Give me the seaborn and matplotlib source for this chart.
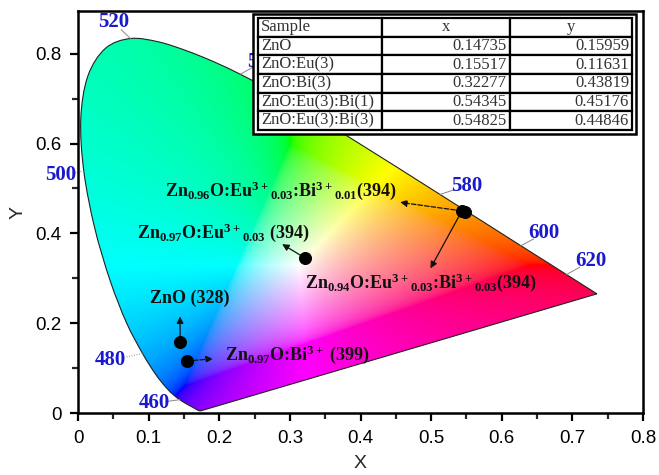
import numpy as np
import pandas as pd
import matplotlib
matplotlib.use("Agg")
import matplotlib.pyplot as plt
import seaborn as sns
from matplotlib.path import Path
from matplotlib.patches import PathPatch, Rectangle

# ---------------- data ----------------
# CIE 1931 spectral locus (wavelength nm, x, y)
wl = [380, 390, 400, 410, 420, 425, 430, 435, 440, 445, 450, 455, 460, 465, 470, 475,
      480, 485, 490, 495, 500, 505, 510, 515, 520, 525, 530, 535, 540, 545, 550, 555,
      560, 565, 570, 575, 580, 585, 590, 595, 600, 605, 610, 615, 620, 625, 630, 635,
      640, 645, 650, 655, 660, 670, 680, 700]
loc_x = [0.1741, 0.1738, 0.1733, 0.1726, 0.1714, 0.1703, 0.1689, 0.1669, 0.1644, 0.1611,
         0.1566, 0.1510, 0.1440, 0.1355, 0.1241, 0.1096, 0.0913, 0.0687, 0.0454, 0.0235,
         0.0082, 0.0039, 0.0139, 0.0389, 0.0743, 0.1142, 0.1547, 0.1929, 0.2296, 0.2658,
         0.3016, 0.3373, 0.3731, 0.4087, 0.4441, 0.4788, 0.5125, 0.5448, 0.5752, 0.6029,
         0.6270, 0.6482, 0.6658, 0.6801, 0.6915, 0.7006, 0.7079, 0.7140, 0.7190, 0.7230,
         0.7260, 0.7283, 0.7300, 0.7320, 0.7334, 0.7347]
loc_y = [0.0050, 0.0049, 0.0048, 0.0048, 0.0051, 0.0058, 0.0069, 0.0086, 0.0109, 0.0138,
         0.0177, 0.0227, 0.0297, 0.0399, 0.0578, 0.0868, 0.1327, 0.2007, 0.2950, 0.4127,
         0.5384, 0.6548, 0.7502, 0.8120, 0.8338, 0.8262, 0.8059, 0.7816, 0.7543, 0.7243,
         0.6923, 0.6589, 0.6245, 0.5896, 0.5547, 0.5202, 0.4866, 0.4544, 0.4242, 0.3965,
         0.3725, 0.3514, 0.3340, 0.3197, 0.3083, 0.2993, 0.2920, 0.2859, 0.2809, 0.2770,
         0.2740, 0.2717, 0.2700, 0.2680, 0.2666, 0.2653]

# wavelength labels: text, locus x, locus y, label x, label y
wl_labels = ["460", "480", "500", "520", "540", "580", "600", "620"]
wl_loc_x = [0.1440, 0.0913, 0.0082, 0.0743, 0.2296, 0.5125, 0.6270, 0.6915]
wl_loc_y = [0.0297, 0.1327, 0.5384, 0.8338, 0.7543, 0.4866, 0.3725, 0.3083]
wl_lab_x = [0.108, 0.046, -0.024, 0.050, 0.262, 0.550, 0.660, 0.726]
wl_lab_y = [0.022, 0.117, 0.530, 0.870, 0.782, 0.506, 0.400, 0.338]

# sample points as drawn
pt_x = [0.1445, 0.1540, 0.3215, 0.5435, 0.5480]
pt_y = [0.1580, 0.1155, 0.3450, 0.4500, 0.4470]

# table
tab_cols = ["Sample", "x", "y"]
tab_sample = ["ZnO", "ZnO:Eu(3)", "ZnO:Bi(3)", "ZnO:Eu(3):Bi(1)", "ZnO:Eu(3):Bi(3)"]
tab_x = ["0.14735", "0.15517", "0.32277", "0.54345", "0.54825"]
tab_y = ["0.15959", "0.11631", "0.43819", "0.45176", "0.44846"]

# annotations: text, x, y
ann_text = [r"Zn$_{0.96}$O:Eu$^{3+}{}_{0.03}$:Bi$^{3+}{}_{0.01}$(394)",
            r"Zn$_{0.97}$O:Eu$^{3+}{}_{0.03}$ (394)",
            r"Zn$_{0.94}$O:Eu$^{3+}{}_{0.03}$:Bi$^{3+}{}_{0.03}$(394)",
            "ZnO (328)",
            r"Zn$_{0.97}$O:Bi$^{3+}$ (399)"]
ann_x = [0.123, 0.084, 0.321, 0.102, 0.208]
ann_y = [0.495, 0.402, 0.289, 0.256, 0.129]

# arrows: start x, start y, end x, end y, style
arr_x0 = [0.5435, 0.5435, 0.3215, 0.1445, 0.1540]
arr_y0 = [0.4500, 0.4500, 0.3450, 0.1580, 0.1155]
arr_x1 = [0.456, 0.499, 0.289, 0.1445, 0.191]
arr_y1 = [0.469, 0.322, 0.376, 0.215, 0.121]
arr_ls = ["--", "-", "-", "-", "--"]

# ---------------- style ----------------
sns.set_theme(style="ticks")
plt.rcParams["font.family"] = ["Liberation Sans", "DejaVu Sans"]
plt.rcParams["mathtext.fontset"] = "custom"
plt.rcParams["mathtext.rm"] = "Liberation Serif:bold"
plt.rcParams["mathtext.it"] = "Liberation Serif:bold"
plt.rcParams["mathtext.bf"] = "Liberation Serif:bold"
plt.rcParams["mathtext.default"] = "rm"

fig = plt.figure(figsize=(6.59, 4.75), dpi=100)
ax = fig.add_axes([0.1184, 0.1305, 0.8574, 0.8463])
ax.set_xlim(0, 0.8)
ax.set_ylim(0, 0.895)

# colour fill (out-of-gamut colours desaturated by adding white)
gx = np.linspace(0, 0.8, 700)
gy = np.linspace(0.0005, 0.895, 700)
GX, GY = np.meshgrid(gx, gy)
X = GX / GY
Y = np.ones_like(GX)
Z = (1 - GX - GY) / GY
R = 3.2406 * X - 1.5372 * Y - 0.4986 * Z
G = -0.9689 * X + 1.8758 * Y + 0.0415 * Z
B = 0.0557 * X - 0.2040 * Y + 1.0570 * Z
rgb = np.stack([R, G, B], axis=-1)
mn = np.min(rgb, axis=-1, keepdims=True)
rgb = rgb - np.minimum(mn, 0)
rgb = rgb / np.max(rgb, axis=-1, keepdims=True).clip(1e-9)
rgb = np.where(rgb <= 0.0031308, 12.92 * rgb, 1.055 * np.clip(rgb, 0, None) ** (1 / 2.4) - 0.055)
rgb = np.clip(rgb, 0, 1)

# smooth boundary path through locus points (Catmull-Rom as cubic Bezier)
P = np.column_stack([loc_x, loc_y])
n = len(P)
verts = [tuple(P[0])]
codes = [Path.MOVETO]
for i in range(n - 1):
    p0 = P[max(i - 1, 0)]
    p1 = P[i]
    p2 = P[i + 1]
    p3 = P[min(i + 2, n - 1)]
    c1 = p1 + (p2 - p0) / 6.0
    c2 = p2 - (p3 - p1) / 6.0
    verts += [tuple(c1), tuple(c2), tuple(p2)]
    codes += [Path.CURVE4] * 3
verts += [tuple(P[0]), tuple(P[0])]
codes += [Path.LINETO, Path.CLOSEPOLY]
poly = PathPatch(Path(verts, codes), facecolor="none", edgecolor="#222222", lw=0.8, zorder=2)
ax.add_patch(poly)
im = ax.imshow(rgb, extent=[0, 0.8, 0.0005, 0.895], origin="lower", aspect="auto",
               interpolation="bilinear", zorder=1)
im.set_clip_path(poly)

# wavelength labels
for t, lx, ly, tx, ty in zip(wl_labels, wl_loc_x, wl_loc_y, wl_lab_x, wl_lab_y):
    ax.plot([lx, lx + (tx - lx) * 0.55], [ly, ly + (ty - ly) * 0.55], color="#888888",
            lw=0.7, ls=":" if t in ("480", "500") else "-", zorder=2, clip_on=False)
    ax.text(tx, ty, t, color="#1a1acc", fontsize=15, fontweight="bold",
            family="Liberation Serif", ha="center", va="center", zorder=3, clip_on=False)

# arrows
for x0, y0, x1, y1, ls in zip(arr_x0, arr_y0, arr_x1, arr_y1, arr_ls):
    ax.annotate("", xy=(x1, y1), xytext=(x0, y0),
                arrowprops=dict(arrowstyle="-|>", color="#111111", lw=0.9, ls=ls,
                                mutation_scale=10, shrinkA=0, shrinkB=0), zorder=4)

# points
pts = pd.DataFrame({"x": pt_x, "y": pt_y})
sns.scatterplot(data=pts, x="x", y="y", ax=ax, color="black", s=75, edgecolor="black",
                zorder=5, legend=False)

# annotation text
for t, x, y in zip(ann_text, ann_x, ann_y):
    ax.text(x, y, t, fontsize=13, fontweight="bold", family="Liberation Serif",
            color="#111111", ha="left", va="center", zorder=6)

# table with double border
ax.add_patch(Rectangle((0.3097, 0.694), 0.678, 0.2985, transform=ax.transAxes,
                       facecolor="white", edgecolor="black", lw=1.8, zorder=9))
cell_text = [[s, a, b] for s, a, b in zip(tab_sample, tab_x, tab_y)]
tb = ax.table(cellText=cell_text, colLabels=tab_cols, bbox=[0.3186, 0.704, 0.662, 0.2786],
              colWidths=[124, 128, 122], zorder=10)
tb.auto_set_font_size(False)
for (r, c), cell in tb.get_celld().items():
    cell.set_linewidth(1.6)
    cell.set_edgecolor("black")
    txt = cell.get_text()
    txt.set_fontfamily("Liberation Serif")
    txt.set_fontsize(12)
    txt.set_color("#333333")
    if c == 0:
        cell._loc = "left"
        txt.set_ha("left")
    elif r == 0:
        cell._loc = "center"
        txt.set_ha("center")
    else:
        cell._loc = "right"
        txt.set_ha("right")
    cell.PAD = 0.025

# axes
ax.set_xticks(np.arange(0, 0.81, 0.1))
ax.set_xticklabels(["0", "0.1", "0.2", "0.3", "0.4", "0.5", "0.6", "0.7", "0.8"])
ax.set_yticks([0, 0.2, 0.4, 0.6, 0.8])
ax.set_yticklabels(["0", "0.2", "0.4", "0.6", "0.8"])
ax.set_xticks(np.arange(0.05, 0.8, 0.1), minor=True)
ax.set_yticks([0.1, 0.3, 0.5, 0.7], minor=True)
ax.tick_params(which="major", direction="out", length=6, width=1.6, labelsize=13.5,
               colors="black", pad=6)
ax.tick_params(which="minor", direction="out", length=4, width=1.6)
for sp in ax.spines.values():
    sp.set_linewidth(1.8)
    sp.set_color("black")
    sp.set_visible(True)
ax.set_xlabel("X", fontsize=14, labelpad=6)
ax.set_ylabel("Y", fontsize=14, labelpad=6)
ax.set_facecolor("white")

fig.savefig("out.png", dpi=100)
